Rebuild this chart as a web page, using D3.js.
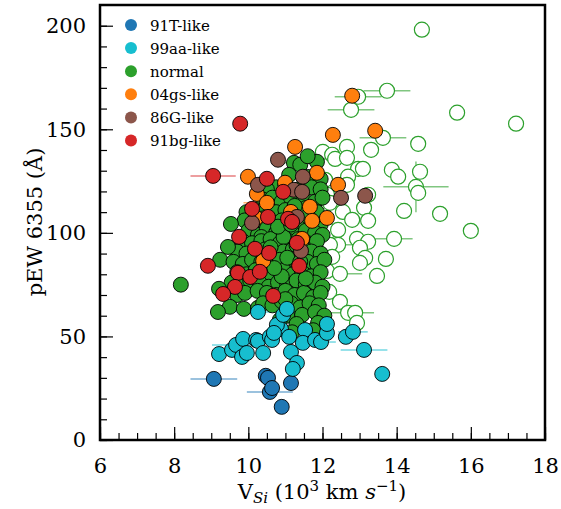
<!DOCTYPE html>
<html>
<head>
<meta charset="utf-8">
<script src="https://cdn.jsdelivr.net/npm/d3@7"></script>
<style>body{margin:0;background:#fff}</style>
</head>
<body>
<script>
// points are [V_Si (10^3 km/s), pEW 6355, xerr, yerr]
var t91 = [[9.07,29.5,0.63],[10.47,31],[10.53,30],[10.58,23.2,0.62],[10.64,25.1],[11.15,27.5],[10.9,16]];

var aa99 = [[9.21,41.5],[9.56,43.5],[9.67,45.9,0.65],[9.83,40.1],[9.86,48.8],[9.96,42],[10.21,48.3],
  [10.26,47.8],[10.4,42],[10.58,49.8],[10.64,48.3],[10.88,53.6],[10.77,55.6],[11.1,49.8],[11.15,42.5],
  [11.31,37.2],[11.2,34.3],[10.26,61.8,0.6],[10.94,60.4],[11.04,63.3],[11.53,53.1],[11.47,46.9],[11.8,48.3],
  [11.96,47.3,0.4],[12.12,51.7],[12.12,56],[12.63,49.8],[12.82,52.2,0.4],[13.12,43.5,0.63],[13.61,31.9],[10.69,51.7]];

var normal = [[11.23,133.8,0.6],[11.4,132.9],[11.85,134.3],[11.6,137],[11.1,128],[11.6,127],[11.95,126],
  [10.75,122],[11.0,123],[11.35,121],[11.7,122],[11.95,121],[10.5,121],
  [10.4,116],[10.65,117],[10.9,115],[11.15,117],[11.5,116],[11.8,115],[12.0,117],
  [10.2,111],[10.45,112],[10.75,110],[11.0,111],[11.3,110],[11.55,112],[11.85,110],[9.95,110],
  [9.9,106],[10.15,105],[10.4,107],[10.65,105],[10.9,106],[11.2,107],[11.45,105],[11.7,106],[11.95,104],[9.53,104.3],
  [10.0,101],[10.26,99],[10.5,102],[10.75,100],[11.0,101],[11.25,99],[11.55,101],[11.8,100],[12.0,99],[10.35,98],
  [9.85,96],[10.1,95],[10.35,96],[10.6,97],[10.85,95],[11.1,96],[11.35,97],[11.6,95],[11.85,96],[10.95,98],[11.45,93],
  [9.7,91],[9.95,90],[10.2,91],[10.45,92],[10.7,90],[10.95,91],[11.2,92],[11.45,89],[11.7,91],[11.95,90],[9.45,93.2],
  [9.24,87],[9.6,86],[9.85,85],[10.1,87],[10.35,86],[10.6,85],[10.85,87],[11.1,86],[11.35,84],[11.6,86],[11.85,85],[12.05,87],
  [9.7,81],[9.95,80],[10.2,82],[10.45,80],[10.7,81],[10.95,82],[11.2,80],[11.45,81],[11.7,79],[11.95,81],[10.55,78],
  [9.55,76],[9.8,75],[10.05,77],[10.3,76],[10.55,74],[10.8,76],[11.05,75],[11.3,77],[11.55,75],[11.8,76],[12.0,74],[8.18,75],
  [9.21,73],[9.7,70],[9.91,71],[10.25,72],[10.5,71],[10.75,70],[11.0,72],[11.25,70],[11.5,71],[11.75,69],[11.95,71],
  [9.5,64.3],[9.88,63.3],[10.26,63.8],[10.4,66],[10.65,65],[10.9,67],[11.15,66],[11.4,64],[11.65,66],[11.9,65],
  [9.18,61.8],[11.05,60],[11.45,60.4],[11.8,61.8],[12.05,60],
  [11.3,56],[11.88,56.5],[11.75,53],[11.18,52],[10.85,58],
  [10.6,93],[11.05,88],[11.3,94],[10.8,103],[11.15,104],[11.4,86],[10.9,79],[11.6,108],[11.25,113],[10.7,83],[11.55,78],[11.0,68]];

// normal SNe drawn as open circles
var normalOpen = [[14.68,198.1],[13.74,168.6,0.63],[12.96,165.7,0.63],[12.77,159.4,0.63],[15.63,158],[17.22,152.7],
  [13.63,145.9,0.63],[14.58,143],[13.31,140.1],[12.66,141.5],[12.01,139.1],[12.26,137.7],[12.34,135.7],[12.66,136.2],
  [12.96,130.9],[13.09,130.9],[12.69,127.1],[12.66,123.2],[13.87,130.4],[14.04,127.1],[14.63,129.5],[14.52,122.2,0.88,12.3],
  [14.58,119.3],[13.23,118.4],[12.12,118.4],[12.2,114.5],[12.07,125.6],[12.55,110.1],[13.12,112.1],[14.2,110.6],
  [15.17,109.2],[16.0,101],[12.8,106.3],[13.23,105.8],[12.18,101],[12.42,101.4],[12.93,97.1],[13.23,95.7],
  [13.93,97.1,0.5],[12.42,94.2,0.47],[12.2,94.2],[13.01,92.8],[13.15,87.9],[12.26,88.4],[13.71,87.4],[13.01,85.5],
  [12.12,81.6],[12.47,80.2,0.6],[13.47,79.2],[12.18,71.5],[12.47,66.7],[12.69,61.4,0.7],[12.88,61.4],[12.93,56.5]];

var gs04 = [[12.8,166.2],[13.42,149.3],[12.28,147.3],[11.26,141.5],[11.85,129],[12.42,123.2],[11.66,112.6],
  [12.12,107.2],[11.72,105.8],[11.15,110.1],[11.45,97.1],[9.99,127.1],[10.23,118.8],[10.99,124.2],
  [10.5,114.5,0.63],[10.21,107.2],[10.4,86.5]];

var g86 = [[10.8,135.3],[10.26,123.2],[10.1,104.8,0.35],[11.47,127.1],[11.23,120.8],[11.45,119.8],
  [12.5,116.9],[13.15,117.9],[11.31,107.7],[11.42,91.3]];

var bg91 = [[9.78,152.7],[9.05,127.5,0.61],[10.5,126.1],[10.94,119.8],[10.1,111.6],[10.53,107.7],[11.07,106.8],
  [9.75,98.1],[10.18,92.3],[8.91,84.1],[9.72,80.7],[10.05,78.7],[10.31,81.2,0.2],[10.56,90.3],[11.37,84.1],
  [11.31,95.2,0.58,0.3],[9.64,73.9],[9.32,70.5],[10.67,69.6],[11.18,105.3]];

var legendNames = ["91T-like","99aa-like","normal","04gs-like","86G-like","91bg-like"];
var colors = ["#1f77b4","#17becf","#2ca02c","#ff7f0e","#8c564b","#d62728"];
var xTicks = [6,8,10,12,14,16,18];
var yTicks = [0,50,100,150,200];

var W = 561, H = 509, L = 100, R = 545, T = 5, B = 440;

var svg = d3.select("body").append("svg")
    .attr("width", W).attr("height", H)
    .style("font-family", "DejaVu Serif");

var x = d3.scaleLinear().domain([6, 18]).range([L, R]);
var y = d3.scaleLinear().domain([0, 210]).range([B, T]);

var plot = svg.append("g");

// error bars first, under the markers
var allSets = [[normalOpen, colors[2]], [normal, colors[2]], [t91, colors[0]], [aa99, colors[1]],
               [gs04, colors[3]], [g86, colors[4]], [bg91, colors[5]]];
allSets.forEach(function(s) {
  var withX = s[0].filter(function(d) { return d[2]; });
  plot.selectAll(null).data(withX).enter().append("line")
    .attr("x1", function(d) { return x(d[0] - d[2]); })
    .attr("x2", function(d) { return x(d[0] + d[2]); })
    .attr("y1", function(d) { return y(d[1]); })
    .attr("y2", function(d) { return y(d[1]); })
    .attr("stroke", s[1]).attr("stroke-width", 1.5).attr("stroke-opacity", 0.6);
  var withY = s[0].filter(function(d) { return d[3]; });
  plot.selectAll(null).data(withY).enter().append("line")
    .attr("x1", function(d) { return x(d[0]); })
    .attr("x2", function(d) { return x(d[0]); })
    .attr("y1", function(d) { return y(d[1] - d[3]); })
    .attr("y2", function(d) { return y(d[1] + d[3]); })
    .attr("stroke", s[1]).attr("stroke-width", 1.5).attr("stroke-opacity", 0.6);
});

// open circles
plot.selectAll("circle.open")
  .data(normalOpen)
  .enter()
    .append("circle")
    .attr("class", "open")
    .attr("cx", function(d) { return x(d[0]); })
    .attr("cy", function(d) { return y(d[1]); })
    .attr("r", 7.5)
    .attr("fill", "#fff")
    .attr("stroke", colors[2])
    .attr("stroke-width", 1.2);

// filled circles, drawn class by class
var filled = [[normal, colors[2]], [t91, colors[0]], [aa99, colors[1]], [gs04, colors[3]], [g86, colors[4]], [bg91, colors[5]]];
filled.forEach(function(s) {
  plot.selectAll(null).data(s[0]).enter().append("circle")
    .attr("cx", function(d) { return x(d[0]); })
    .attr("cy", function(d) { return y(d[1]); })
    .attr("r", 7.5)
    .attr("fill", s[1])
    .attr("stroke", "#000")
    .attr("stroke-width", 0.9);
});

// axes with inward ticks
var xMinor = svg.append("g").attr("transform", "translate(0," + B + ")")
  .call(d3.axisBottom(x).tickValues(d3.range(6, 18.01, 0.5)).tickSize(-7).tickFormat(""));
var xMajor = svg.append("g").attr("transform", "translate(0," + B + ")")
  .call(d3.axisBottom(x).tickValues(xTicks).tickSize(-13).tickPadding(18));
var yMinor = svg.append("g").attr("transform", "translate(" + L + ",0)")
  .call(d3.axisLeft(y).tickValues(d3.range(0, 210, 10)).tickSize(-7).tickFormat(""));
var yMajor = svg.append("g").attr("transform", "translate(" + L + ",0)")
  .call(d3.axisLeft(y).tickValues(yTicks).tickSize(-13).tickPadding(14));

[xMinor, xMajor, yMinor, yMajor].forEach(function(g) {
  g.select(".domain").remove();
  g.selectAll("line").attr("stroke", "#000").attr("stroke-width", 1.2);
  g.selectAll("text").attr("font-family", "DejaVu Serif").attr("font-size", 21).attr("fill", "#000");
});

svg.append("rect")
  .attr("x", L).attr("y", T).attr("width", R - L).attr("height", B - T)
  .attr("fill", "none").attr("stroke", "#000").attr("stroke-width", 2.5);

// legend
var leg = svg.append("g");
leg.selectAll("circle").data(legendNames).enter().append("circle")
  .attr("cx", 131)
  .attr("cy", function(d, i) { return 25 + i * 23.1; })
  .attr("r", 6)
  .attr("fill", function(d, i) { return colors[i]; });
leg.selectAll("text").data(legendNames).enter().append("text")
  .attr("x", 150)
  .attr("y", function(d, i) { return 30.5 + i * 23.1; })
  .attr("font-size", 15)
  .text(function(d) { return d; });

// axis titles
var xl = svg.append("text").attr("x", 322).attr("y", 499).attr("text-anchor", "middle").attr("font-size", 21);
xl.append("tspan").text("V");
xl.append("tspan").attr("font-style", "italic").attr("font-size", 15).attr("dy", 4).text("Si");
xl.append("tspan").attr("dy", -4).text(" (10");
xl.append("tspan").attr("font-size", 15).attr("dy", -8).text("3");
xl.append("tspan").attr("dy", 8).text(" km ");
xl.append("tspan").attr("font-style", "italic").text("s");
xl.append("tspan").attr("font-size", 15).attr("dy", -8).text("\u22121");
xl.append("tspan").attr("dy", 8).text(")");

svg.append("text")
  .attr("transform", "translate(42,222) rotate(-90)")
  .attr("text-anchor", "middle")
  .attr("font-size", 21)
  .text("pEW 6355 (\u00c5)");
</script>
</body>
</html>
